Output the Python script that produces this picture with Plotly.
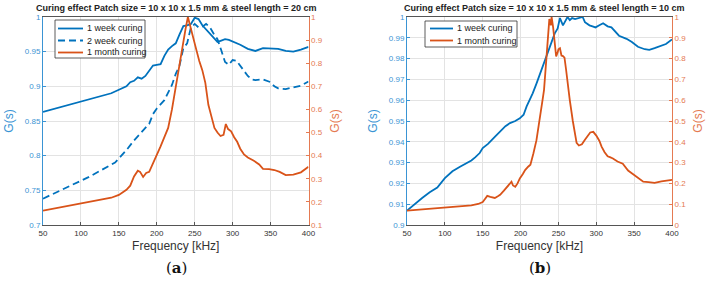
import plotly.graph_objects as go

# ---------------- data: panel (a) steel length 20 cm ----------------
a_week1_f = [50, 60, 70, 80, 90, 100, 110, 120, 130, 140, 150, 160, 165, 170, 175, 180, 185, 190, 195,
             200, 205, 210, 215, 220, 225, 230, 235, 240, 245, 250, 255, 260, 265, 270, 275, 280,
             285, 290, 295, 300, 310, 320, 330, 340, 350, 360, 370, 380, 390, 400]
a_week1_g = [0.863, 0.866, 0.869, 0.872, 0.875, 0.878, 0.881, 0.884, 0.887, 0.890, 0.895, 0.900, 0.906,
             0.908, 0.913, 0.911, 0.915, 0.922, 0.930, 0.931, 0.932, 0.944, 0.953, 0.958, 0.962,
             0.975, 0.987, 0.988, 0.990, 0.999, 0.997, 0.988, 0.982, 0.976, 0.970, 0.964, 0.966,
             0.968, 0.967, 0.965, 0.960, 0.954, 0.951, 0.955, 0.955, 0.954, 0.951, 0.950, 0.953, 0.957]

a_week2_f = [50, 60, 70, 80, 90, 100, 110, 120, 130, 140, 145, 150, 160, 170, 180, 190, 195, 200, 210,
             215, 220, 225, 230, 235, 240, 245, 250, 255, 260, 265, 270, 275, 280, 285, 290, 295,
             300, 305, 310, 315, 320, 325, 330, 340, 350, 355, 360, 370, 380, 390, 400]
a_week2_g = [0.738, 0.743, 0.748, 0.753, 0.758, 0.764, 0.769, 0.775, 0.781, 0.788, 0.790, 0.796, 0.808,
             0.822, 0.834, 0.846, 0.860, 0.868, 0.880, 0.890, 0.902, 0.918, 0.930, 0.955, 0.962,
             0.985, 0.990, 0.985, 0.986, 0.990, 0.985, 0.976, 0.968, 0.952, 0.935, 0.931, 0.938,
             0.937, 0.930, 0.922, 0.915, 0.910, 0.909, 0.910, 0.906, 0.900, 0.897, 0.896, 0.898,
             0.901, 0.907]

a_month_f = [50, 60, 70, 80, 90, 100, 110, 120, 130, 140, 150, 155, 160, 165, 170, 175, 178, 182, 186,
             190, 195, 200, 205, 210, 215, 220, 225, 230, 235, 238, 241, 244, 248, 252, 256, 260,
             264, 268, 272, 276, 280, 284, 288, 291, 294, 298, 302, 306, 310, 315, 320, 328, 335,
             340, 348, 355, 362, 370, 380, 390, 400]
a_month_g = [0.162, 0.168, 0.175, 0.182, 0.188, 0.194, 0.199, 0.205, 0.212, 0.218, 0.230, 0.240, 0.252,
             0.270, 0.310, 0.335, 0.330, 0.308, 0.325, 0.330, 0.365, 0.400, 0.440, 0.480, 0.520,
             0.600, 0.700, 0.800, 0.885, 0.950, 1.000, 0.960, 0.900, 0.860, 0.810, 0.770, 0.715,
             0.620, 0.570, 0.520, 0.500, 0.485, 0.490, 0.537, 0.515, 0.505, 0.480, 0.460, 0.430,
             0.405, 0.392, 0.378, 0.362, 0.343, 0.342, 0.338, 0.330, 0.316, 0.318, 0.328, 0.352]

# ---------------- data: panel (b) steel length 10 cm ----------------
b_week1_f = [50, 60, 70, 80, 90, 100, 110, 120, 130, 135, 140, 146, 150, 157, 165, 173, 180, 186, 193,
             199, 204, 208, 212, 216, 221, 226, 232, 237, 241, 245, 249, 252, 256, 262, 265, 268,
             272, 276, 282, 285, 291, 295, 299, 304, 309, 315, 320, 330, 340, 347, 355, 364, 370,
             377, 386, 392, 400]
b_week1_g = [0.9069, 0.9100, 0.9130, 0.9157, 0.9180, 0.9225, 0.9258, 0.9280, 0.9300, 0.9310, 0.9325,
             0.9346, 0.9370, 0.9390, 0.9420, 0.9450, 0.9475, 0.9490, 0.9500, 0.9513, 0.9530, 0.9570,
             0.9600, 0.9633, 0.9680, 0.9730, 0.9793, 0.9840, 0.9880, 0.9920, 0.9945, 0.9995, 0.9960,
             1.0000, 0.9985, 0.9995, 0.9990, 0.9995, 1.0000, 0.9975, 0.9960, 0.9955, 0.9950, 0.9960,
             0.9970, 0.9955, 0.9950, 0.9910, 0.9895, 0.9880, 0.9857, 0.9845, 0.9842, 0.9850, 0.9860,
             0.9870, 0.9892]

b_month_f = [50, 60, 70, 80, 90, 100, 110, 120, 127, 135, 144, 150, 153, 156, 160, 166, 170, 173, 178,
             182, 185, 188, 190, 193, 196, 199, 203, 206, 210, 213, 217, 221, 224, 226, 229, 231,
             234, 236, 238, 240, 241, 243, 245, 247, 249, 250, 252, 254, 256, 258, 260, 262, 265,
             269, 272, 274, 277, 281, 285, 289, 292, 296, 298, 300, 304, 307, 311, 315, 318, 322,
             328, 335, 342, 348, 353, 358, 362, 369, 377, 386, 393, 400]
b_month_g = [0.069, 0.072, 0.075, 0.079, 0.082, 0.085, 0.087, 0.089, 0.091, 0.094, 0.101, 0.110, 0.125,
             0.140, 0.135, 0.130, 0.138, 0.145, 0.165, 0.184, 0.195, 0.208, 0.190, 0.184, 0.200,
             0.224, 0.245, 0.264, 0.280, 0.290, 0.345, 0.408, 0.480, 0.537, 0.600, 0.650, 0.810,
             0.930, 0.990, 0.960, 1.000, 0.950, 0.870, 0.810, 0.830, 0.845, 0.850, 0.815, 0.812,
             0.805, 0.750, 0.680, 0.600, 0.500, 0.440, 0.395, 0.382, 0.388, 0.410, 0.433, 0.445,
             0.448, 0.440, 0.430, 0.405, 0.377, 0.350, 0.330, 0.326, 0.320, 0.305, 0.295, 0.262,
             0.245, 0.232, 0.215, 0.208, 0.206, 0.203, 0.210, 0.212, 0.217]

x_ticks = [50, 100, 150, 200, 250, 300, 350, 400]
a_left_ticks = [0.7, 0.75, 0.8, 0.85, 0.9, 0.95, 1.0]
a_left_labels = ["0.7", "0.75", "0.8", "0.85", "0.9", "0.95", "1"]
a_right_ticks = [0.1, 0.2, 0.3, 0.4, 0.5, 0.6, 0.7, 0.8, 0.9, 1.0]
a_right_labels = ["0.1", "0.2", "0.3", "0.4", "0.5", "0.6", "0.7", "0.8", "0.9", "1"]
b_left_ticks = [0.9, 0.91, 0.92, 0.93, 0.94, 0.95, 0.96, 0.97, 0.98, 0.99, 1.0]
b_left_labels = ["0.9", "0.91", "0.92", "0.93", "0.94", "0.95", "0.96", "0.97", "0.98", "0.99", "1"]
b_right_ticks = [0, 0.1, 0.2, 0.3, 0.4, 0.5, 0.6, 0.7, 0.8, 0.9, 1.0]
b_right_labels = ["0", "0.1", "0.2", "0.3", "0.4", "0.5", "0.6", "0.7", "0.8", "0.9", "1"]

a_names = ["1 week curing", "2 week curing", "1 month curing"]
b_names = ["1 week curing", "1 month curing"]
titles = ["Curing effect Patch size = 10 x 10 x 1.5 mm & steel length = 20 cm",
          "Curing effect Patch size = 10 x 10 x 1.5 mm & steel length = 10 cm"]

BLUE = "#0072BD"
ORANGE = "#D95319"
BLUE_AX = "#3a94d4"
ORANGE_AX = "#e57a52"
GRID = "#e3e3e3"
FONT = "Liberation Sans, Arial, sans-serif"
DASH = "7px,4px"

fig = go.Figure()
fig.add_trace(go.Scatter(x=a_week1_f, y=a_week1_g, mode="lines", name=a_names[0],
                         line=dict(color=BLUE, width=1.8), xaxis="x", yaxis="y"))
fig.add_trace(go.Scatter(x=a_week2_f, y=a_week2_g, mode="lines", name=a_names[1],
                         line=dict(color=BLUE, width=1.8, dash=DASH), xaxis="x", yaxis="y"))
fig.add_trace(go.Scatter(x=a_month_f, y=a_month_g, mode="lines", name=a_names[2],
                         line=dict(color=ORANGE, width=1.8), xaxis="x", yaxis="y2"))
fig.add_trace(go.Scatter(x=b_week1_f, y=b_week1_g, mode="lines", name=b_names[0],
                         line=dict(color=BLUE, width=1.8), xaxis="x2", yaxis="y3"))
fig.add_trace(go.Scatter(x=b_month_f, y=b_month_g, mode="lines", name=b_names[1],
                         line=dict(color=ORANGE, width=1.8), xaxis="x2", yaxis="y4"))

W, H = 713, 287
ydom = [1 - 225 / H, 1 - 17 / H]
xdomA = [43 / W, 308.5 / W]
xdomB = [407 / W, 672 / W]

def px(v):
    return v / W

def py(v):
    return 1 - v / H

def xax(dom, anchor):
    return dict(domain=dom, anchor=anchor, range=[50, 400], tickvals=x_ticks,
                showgrid=True, gridcolor=GRID, gridwidth=1, zeroline=False,
                showline=True, linecolor="#555555", linewidth=1, mirror=True,
                ticks="inside", ticklen=3, tickcolor="#555555",
                tickfont=dict(size=8, color="#333333", family=FONT),
                title=dict(text="Frequency [kHz]", font=dict(size=12, color="#333333", family=FONT),
                           standoff=5),
                automargin=False)

def yleft(dom, anchor, rng, tv, tt):
    return dict(domain=dom, anchor=anchor, range=rng, tickvals=tv, ticktext=tt,
                showgrid=True, gridcolor=GRID, gridwidth=1, zeroline=False,
                showline=True, linecolor=BLUE_AX, linewidth=1,
                ticks="inside", ticklen=3, tickcolor=BLUE_AX,
                tickfont=dict(size=8, color=BLUE_AX, family=FONT),
                title=dict(text="G(s)", font=dict(size=12, color=BLUE_AX, family=FONT), standoff=8),
                automargin=False)

def yright(over, anchor, rng, tv, tt):
    return dict(overlaying=over, anchor=anchor, side="right", range=rng, tickvals=tv, ticktext=tt,
                showgrid=False, zeroline=False,
                showline=True, linecolor=ORANGE_AX, linewidth=1,
                ticks="inside", ticklen=3, tickcolor=ORANGE_AX,
                tickfont=dict(size=8, color=ORANGE_AX, family=FONT),
                title=dict(text="G(s)", font=dict(size=12, color=ORANGE_AX, family=FONT), standoff=8),
                automargin=False)

shapes = []
annotations = []

def add_legend(x0, x1, y0, y1, names, styles, line_x0, line_x1, text_x, ys):
    shapes.append(dict(type="rect", xref="paper", yref="paper", x0=px(x0), x1=px(x1),
                       y0=py(y1), y1=py(y0), line=dict(color="#333333", width=0.8),
                       fillcolor="white", layer="above"))
    for name, (col, dash), yy in zip(names, styles, ys):
        shapes.append(dict(type="line", xref="paper", yref="paper", x0=px(line_x0), x1=px(line_x1),
                           y0=py(yy), y1=py(yy), line=dict(color=col, width=1.8, dash=dash),
                           layer="above"))
        annotations.append(dict(text=name, x=px(text_x), y=py(yy), xref="paper", yref="paper",
                                xanchor="left", yanchor="middle", showarrow=False,
                                font=dict(size=9, color="#222222", family=FONT)))

add_legend(55, 145, 20, 58, a_names, [(BLUE, "solid"), (BLUE, DASH), (ORANGE, "solid")],
           58, 83, 84.5, [28.5, 40.5, 52.5])
add_legend(425, 517, 21, 47, b_names, [(BLUE, "solid"), (ORANGE, "solid")],
           430, 453, 454.5, [28.5, 40.5])

annotations.append(dict(text="<b>" + titles[0] + "</b>", x=px(176), y=py(8.5), xref="paper",
                        yref="paper", xanchor="center", yanchor="middle", showarrow=False,
                        font=dict(size=9, color="#222222", family=FONT)))
annotations.append(dict(text="<b>" + titles[1] + "</b>", x=px(544), y=py(8.5), xref="paper",
                        yref="paper", xanchor="center", yanchor="middle", showarrow=False,
                        font=dict(size=9, color="#222222", family=FONT)))
for lab, cx in (("a", 176), ("b", 540)):
    annotations.append(dict(text="(<b>" + lab + "</b>)", x=px(cx), y=py(268), xref="paper",
                            yref="paper", xanchor="center", yanchor="middle", showarrow=False,
                            font=dict(size=15, color="#111111",
                                      family="DejaVu Serif, Liberation Serif, serif")))

fig.update_layout(
    width=W, height=H,
    margin=dict(l=0, r=0, t=0, b=0),
    paper_bgcolor="white", plot_bgcolor="white",
    font=dict(family=FONT),
    showlegend=False,
    hovermode=False,
    xaxis=xax(xdomA, "y"),
    yaxis=yleft(ydom, "x", [0.7, 1.0], a_left_ticks, a_left_labels),
    yaxis2=yright("y", "x", [0.1, 1.0], a_right_ticks, a_right_labels),
    xaxis2=xax(xdomB, "y3"),
    yaxis3=yleft(ydom, "x2", [0.9, 1.0], b_left_ticks, b_left_labels),
    yaxis4=yright("y3", "x2", [0.0, 1.0], b_right_ticks, b_right_labels),
    shapes=shapes,
    annotations=annotations,
)

fig.write_html("out.html", config={"displayModeBar": False},
               post_script="document.body.style.margin='0';document.body.style.overflow='hidden';")
